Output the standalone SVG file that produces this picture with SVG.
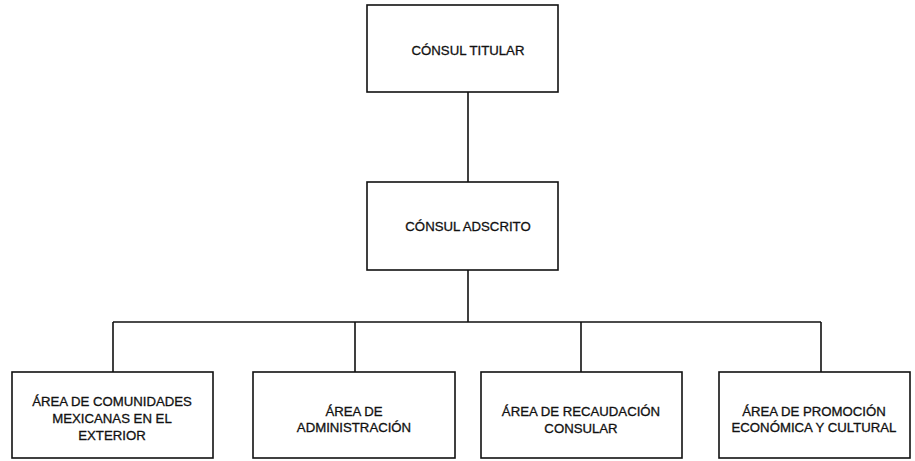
<svg xmlns="http://www.w3.org/2000/svg" width="915" height="461" viewBox="0 0 915 461">
<style>
.box{fill:#fff;stroke:#111;stroke-width:1.6}
.t{font-family:"Liberation Sans",Arial,sans-serif;font-size:13.2px;fill:#111;stroke:#111;stroke-width:0.3;text-anchor:middle}
.c{fill:none;stroke:#111;stroke-width:1.6}
</style>
<rect width="915" height="461" fill="#fff"/>
<g id="connectors">
<path class="c" d="M468 92V182M468 270V322M113 322H821M113 322V372M355 322V372M581 322V372M821 322V372"/>
</g>
<g id="consul-titular">
<rect class="box" x="367" y="5" width="191" height="87"/>
<text class="t" x="468" y="55">CÓNSUL TITULAR</text>
</g>
<g id="consul-adscrito">
<rect class="box" x="367" y="182" width="191" height="88"/>
<text class="t" x="468" y="231">CÓNSUL ADSCRITO</text>
</g>
<g id="area-comunidades">
<rect class="box" x="12" y="372" width="201" height="86"/>
<text class="t" x="112" y="406">ÁREA DE COMUNIDADES</text>
<text class="t" x="112" y="423">MEXICANAS EN EL</text>
<text class="t" x="112" y="440">EXTERIOR</text>
</g>
<g id="area-administracion">
<rect class="box" x="253" y="372" width="202" height="86"/>
<text class="t" x="354" y="415.5">ÁREA DE</text>
<text class="t" x="354" y="432">ADMINISTRACIÓN</text>
</g>
<g id="area-recaudacion">
<rect class="box" x="481" y="372" width="201" height="86"/>
<text class="t" x="581" y="416">ÁREA DE RECAUDACIÓN</text>
<text class="t" x="581" y="432.5">CONSULAR</text>
</g>
<g id="area-promocion">
<rect class="box" x="719" y="372" width="191" height="86"/>
<text class="t" x="814" y="415.5">ÁREA DE PROMOCIÓN</text>
<text class="t" x="814" y="432">ECONÓMICA Y CULTURAL</text>
</g>
</svg>
